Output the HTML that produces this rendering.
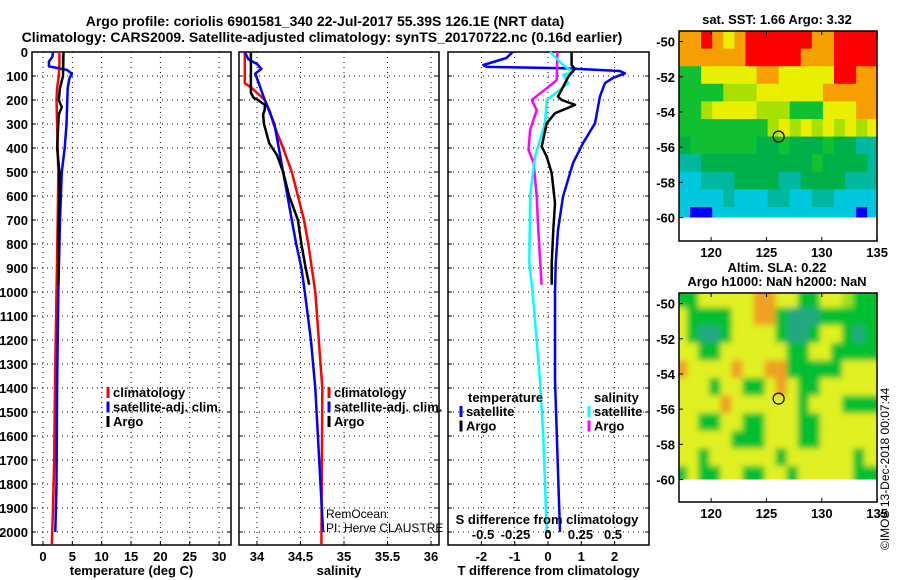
<!DOCTYPE html>
<html><head><meta charset="utf-8">
<style>
html,body{margin:0;padding:0;background:#fff;}
svg{display:block;font-family:"Liberation Sans",sans-serif;}
.b{font-weight:bold;font-size:13px;}
</style></head>
<body>
<svg id="chart" width="900" height="580" viewBox="0 0 900 580">
<text x="325" y="26" text-anchor="middle" font-weight="bold" font-size="14">Argo profile: coriolis 6901581_340 22-Jul-2017 55.39S 126.1E (NRT data)</text>
<text x="322" y="42" text-anchor="middle" font-weight="bold" font-size="14">Climatology: CARS2009. Satellite-adjusted climatology: synTS_20170722.nc (0.16d earlier)</text>
<g id="plots"></g>
</svg>
<script>
// ---- depth axis ----
const depthTicks=[0,100,200,300,400,500,600,700,800,900,1000,1100,1200,1300,1400,1500,1600,1700,1800,1900,2000];
// ---- temperature panel ----
const tTicks=[0,5,10,15,20,25,30];
const tClimDepth=[0,50,100,150,200,300,400,500,700,1000,1300,1500,1700,1900,2050];
const tClim=[2.8,2.8,2.7,2.4,2.3,2.4,2.5,2.6,2.5,2.3,2.1,2.0,1.9,1.7,1.5];
const tSatDepth=[0,20,40,60,75,90,110,150,300,400,500,700,1000,1400,1800,2000];
const tSat=[1.7,1.6,1.0,1.0,4.1,4.9,4.5,4.2,4.0,3.7,3.2,2.9,2.6,2.4,2.3,2.1];
const tArgoDepth=[0,100,150,200,230,260,300,400,500,600,700,970];
const tArgo=[3.5,3.4,2.9,2.7,3.2,2.7,2.6,2.4,2.8,2.8,2.7,2.6];
// ---- salinity panel ----
const sTicks=[34,34.5,35,35.5,36];
const sClimDepth=[0,130,150,200,250,300,400,500,600,700,800,900,1000,1200,1400,2050];
const sClim=[33.86,33.86,33.94,34.09,34.15,34.19,34.30,34.40,34.47,34.54,34.59,34.63,34.67,34.71,34.75,34.74];
const sSatDepth=[0,30,50,70,90,120,200,300,400,500,600,700,800,900,1000,1200,1400,1600,2000];
const sSat=[33.86,33.90,34.0,34.05,33.98,34.01,34.09,34.20,34.25,34.30,34.35,34.40,34.45,34.51,34.55,34.62,34.67,34.70,34.76];
const sArgoDepth=[0,170,190,200,220,240,260,300,380,430,500,600,700,800,900,970];
const sArgo=[33.93,33.93,33.96,34.01,34.09,34.09,34.07,34.08,34.14,34.23,34.30,34.37,34.47,34.51,34.56,34.60];
// ---- difference panel ----
const dtTicks=[-2,-1,0,1,2];
const dsTicks=[-0.5,-0.25,0,0.25,0.5];
const dsTickLabels=["-0.5","-0.25","0","0.25","0.5"];
const dtSatDepth=[0,25,54,62,68,79,89,108,130,186,297,380,463,603,742,880,1004,1367,2000];
const dtSat=[-1.06,-1.25,-1.94,-1.84,0.5,2.16,2.31,1.95,1.71,1.56,1.41,1.05,0.75,0.45,0.30,0.23,0.21,0.21,0.36];
const dtArgoDepth=[0,55,70,103,130,186,200,220,233,255,297,394,436,505,630,742,880,970];
const dtArgo=[0.71,0.71,0.81,0.61,0.51,0.30,0.41,0.81,0.60,0.21,-0.04,-0.19,-0.04,0.11,0.21,0.16,0.11,0.11];
const dsArgoDepth=[0,117,151,200,242,325,408,463,603,742,970];
const dsArgo=[0.072,0.067,-0.01,-0.125,-0.087,-0.138,-0.15,-0.11,-0.087,-0.075,-0.049];
const dsSatDepth=[0,55,83,96,130,200,297,436,603,880,1004,1367,1600,2000];
const dsSat=[0.015,0.118,0.19,0.118,0.156,-0.01,-0.023,-0.1,-0.138,-0.144,-0.118,-0.062,-0.036,-0.01];
// ---- maps ----
const lonTicks=[120,125,130,135];
const latTicks=[-50,-52,-54,-56,-58,-60];
const argoLon=126.1, argoLat=-55.4;
const sstGrid=[
"OOROYORRRRRROORRRR",
"OOOOOORRRRROOORRRR",
"GGYYYYYOOYYYYYRROO",
"GGGGLLLYYYYYYOOOOO",
"GGLYYYYLLLGGGYYYOO",
"GGGGGGGGLYLYLYLYLY",
"DGGGGGGDDGDDDGDDTT",
"TTDDDDDDDDDDGDDDDT",
"CCTTTDDDDTTDDDDTTT",
"CCCCTCCCTTCCTTCCCC",
"CBBCCCCCCCCCCCCCBC"];
const slaGrid=[
"GGYYYYYOOYYGGYYLGG",
"YGGGGYYOOGTTTGGGGG",
"YGTTGYYYYGTTGYYGTG",
"YYGGYYYYYYGGYYGGGG",
"OYYYYOYYOOGGGGGYYY",
"YYYGYYGGYOYGGYYYYY",
"YYYYOYYYYYYGYYYGGG",
"YYGGYYGGYYYGGYYYYY",
"YYYYYGGGYYYGGYYYYY",
"YYGYYYYYYGYYYYYYGY",
"GYGGYYGGYYGYYYYYGG"];

const NS="http://www.w3.org/2000/svg";
const root=document.getElementById('plots');
function el(tag,attrs,parent){const e=document.createElementNS(NS,tag);for(const k in attrs)e.setAttribute(k,attrs[k]);(parent||root).appendChild(e);return e;}
function txt(x,y,s,attrs,parent){const e=el('text',Object.assign({x:x,y:y},attrs||{}),parent);e.textContent=s;return e;}

const yTop=52, yBot=545, pxPerM=0.24;
const yD=d=>yTop+d*pxPerM;

function panel(name,x0,x1,xfun,ticks,labels,xtitle){
  const g=el('g',{});
  
  
  depthTicks.forEach(d=>{const l=el('line',{x1:x0,x2:x1,y1:yD(d),y2:yD(d),stroke:'#000','stroke-dasharray':'1,4','stroke-width':1},g);
    
    
    el('line',{x1:x0,x2:x0+4,y1:yD(d),y2:yD(d),stroke:'#000'},g);
    el('line',{x1:x1-4,x2:x1,y1:yD(d),y2:yD(d),stroke:'#000'},g);});
  ticks.forEach((t,i)=>{const x=xfun(t);
    const l=el('line',{x1:x,x2:x,y1:yTop,y2:yBot,stroke:'#000','stroke-dasharray':'1,4'},g);
    
    
    if(labels){el('line',{x1:x,x2:x,y1:yBot-4,y2:yBot,stroke:'#000'},g);
    const tl=txt(x,561,labels[i],{'text-anchor':'middle',class:'b'},g);
    
    }});
  el('rect',{x:x0,y:yTop,width:x1-x0,height:yBot-yTop,fill:'none',stroke:'#000','stroke-width':1.5},g);
  if(xtitle){const t=txt((x0+x1)/2,575,xtitle,{'text-anchor':'middle',class:'b'},g);
    
    }
  return g;
}
function line(g,depths,vals,xfun,color,name){
  const pts=depths.map((d,i)=>xfun(vals[i]).toFixed(1)+','+yD(d).toFixed(1)).join(' ');
  const p=el('polyline',{points:pts,fill:'none',stroke:color,'stroke-width':2.5,'stroke-linejoin':'round'},g);
  
  
}
function legend(g,x,y,items){
  items.forEach((it,i)=>{const yy=y+i*14.5;
    el('line',{x1:x,x2:x,y1:yy-10,y2:yy+1,stroke:it[1],'stroke-width':3},g);
    const t=txt(x+5,yy,it[0],{class:'b'},g);
    
    });
}

depthTicks.forEach(d=>{const t=txt(28,yD(d)+5,String(d),{'text-anchor':'end',class:'b'});
  
  });

const xT=t=>43+t*5.87;
const gT=panel('temperature-panel',32,231,xT,tTicks,tTicks.map(String),'temperature (deg C)');
line(gT,tClimDepth,tClim,xT,'#ff0000','temp-climatology-line');
line(gT,tSatDepth,tSat,xT,'#0000ff','temp-satellite-line');
line(gT,tArgoDepth,tArgo,xT,'#000','temp-argo-line');
legend(gT,108,397,[['climatology','#f00'],['satellite-adj. clim.','#00f'],['Argo','#000']]);

const xS=s=>257+(s-34)*87;
const gS=panel('salinity-panel',239,439,xS,sTicks,sTicks.map(String),'salinity');
line(gS,sClimDepth,sClim,xS,'#ff0000','sal-climatology-line');
line(gS,sSatDepth,sSat,xS,'#0000ff','sal-satellite-line');
line(gS,sArgoDepth,sArgo,xS,'#000','sal-argo-line');
legend(gS,329,397,[['climatology','#f00'],['satellite-adj. clim.','#00f'],['Argo','#000']]);
const r1=txt(326,518,'RemOcean',{'font-size':12},gS);


const r2=txt(326,532,'PI: Herve CLAUSTRE',{'font-size':12},gS);



const xDT=v=>548+v*33.3;
const xDS=v=>548+v*130;
const gD=panel('difference-panel',448,649,xDT,dtTicks,dtTicks.map(String),'T difference from climatology');
line(gD,dtSatDepth,dtSat,xDT,'#0000ff','dt-satellite-line');
line(gD,dsArgoDepth,dsArgo,xDS,'#ff00ff','ds-argo-line');
line(gD,dsSatDepth,dsSat,xDS,'#00ffff','ds-satellite-line');
line(gD,dtArgoDepth,dtArgo,xDT,'#000','dt-argo-line');
const lt=txt(468,402,'temperature',{class:'b'},gD);


legend(gD,461,416,[['satellite','#00f'],['Argo','#000']]);
const ls=txt(594,402,'salinity',{class:'b'},gD);


legend(gD,589,416,[['satellite','#0ff'],['Argo','#f0f']]);
const sdt=txt(547,524,'S difference from climatology',{'text-anchor':'middle',class:'b'},gD);


dsTicks.forEach((v,i)=>{const t=txt(xDS(v),539,dsTickLabels[i],{'text-anchor':'middle',class:'b'},gD);
  
  });

const sstCol={R:'#ff0000',O:'#f5a000',Y:'#e8f000',L:'#a8e000',G:'#10c030',D:'#00b048',T:'#00b8a0',C:'#00c8dc',B:'#0000ff'};
const slaCol={G:'#00c030',T:'#20a880',Y:'#e0f020',O:'#f0a020',L:'#a0e020'};
function map(name,top,bottom,grid,cols,title,blur,labelY){
  const x0=679,x1=877,lon0=117.1,pxLon=11.07,lat0top=-49.4;
  const pxLat=17.6;
  const xL=lon=>x0+(lon-lon0)*pxLon;
  const yL=lat=>top+(lat0top-lat)*pxLat;
  const g=el('g',{});
  
  
  const cid='clip'+name;
  const cp=el('clipPath',{id:cid},g);
  el('rect',{x:x0,y:top,width:x1-x0,height:yL(-60)-top},cp);
  const img=el('g',{'clip-path':'url(#'+cid+')'},g);
  const inner=el('g',blur?{filter:'url(#bl)'}:{},img);
  grid.forEach((row,r)=>{for(let c=0;c<row.length;c++){
    const la=lat0top-r, lo=lon0+c;
    const rc=el('rect',{x:xL(lo)-(blur?3:0),y:yL(la)-(blur?3:0),width:pxLon+0.6+(blur?6:0),height:pxLat+0.6+(blur?6:0),fill:cols[row[c]]},inner);
    
    }});
  el('rect',{x:x0,y:top,width:x1-x0,height:bottom-top,fill:'none',stroke:'#000','stroke-width':1.5},g);
  latTicks.forEach(la=>{const y=yL(la);
    el('line',{x1:x0,x2:x0+4,y1:y,y2:y,stroke:'#000'},g);
    const t=txt(675,y+5,String(la),{'text-anchor':'end',class:'b'},g);
    
    });
  lonTicks.forEach(lo=>{const x=xL(lo);
    el('line',{x1:x,x2:x,y1:bottom-4,y2:bottom,stroke:'#000'},g);
    el('line',{x1:x,x2:x,y1:top,y2:top+4,stroke:'#000'},g);
    const t=txt(x,labelY,String(lo),{'text-anchor':'middle',class:'b'},g);
    
    });
  const c=el('circle',{cx:xL(argoLon),cy:yL(argoLat),r:5.5,fill:'none',stroke:'#000','stroke-width':1.2},g);
  
  
  title.forEach((s,i)=>{const t=txt(777,top-7-(title.length-1-i)*14,s,{'text-anchor':'middle',class:'b','font-size':12},g);
    
    });
}
const defs=el('defs',{});
const f=el('filter',{id:'bl',x:'-5%',y:'-5%',width:'110%',height:'110%'},defs);
el('feGaussianBlur',{stdDeviation:3},f);
map('sst-map',31,241,sstGrid,sstCol,['sat. SST: 1.66 Argo: 3.32'],false,257);
map('sla-map',293,502,slaGrid,slaCol,['Altim. SLA: 0.22','Argo h1000: NaN h2000: NaN'],true,518);
const cr=txt(0,0,'©IMOS 13-Dec-2018 00:07:44',{'font-size':12,transform:'translate(889,550) rotate(-90)'});


</script>
</body></html>
